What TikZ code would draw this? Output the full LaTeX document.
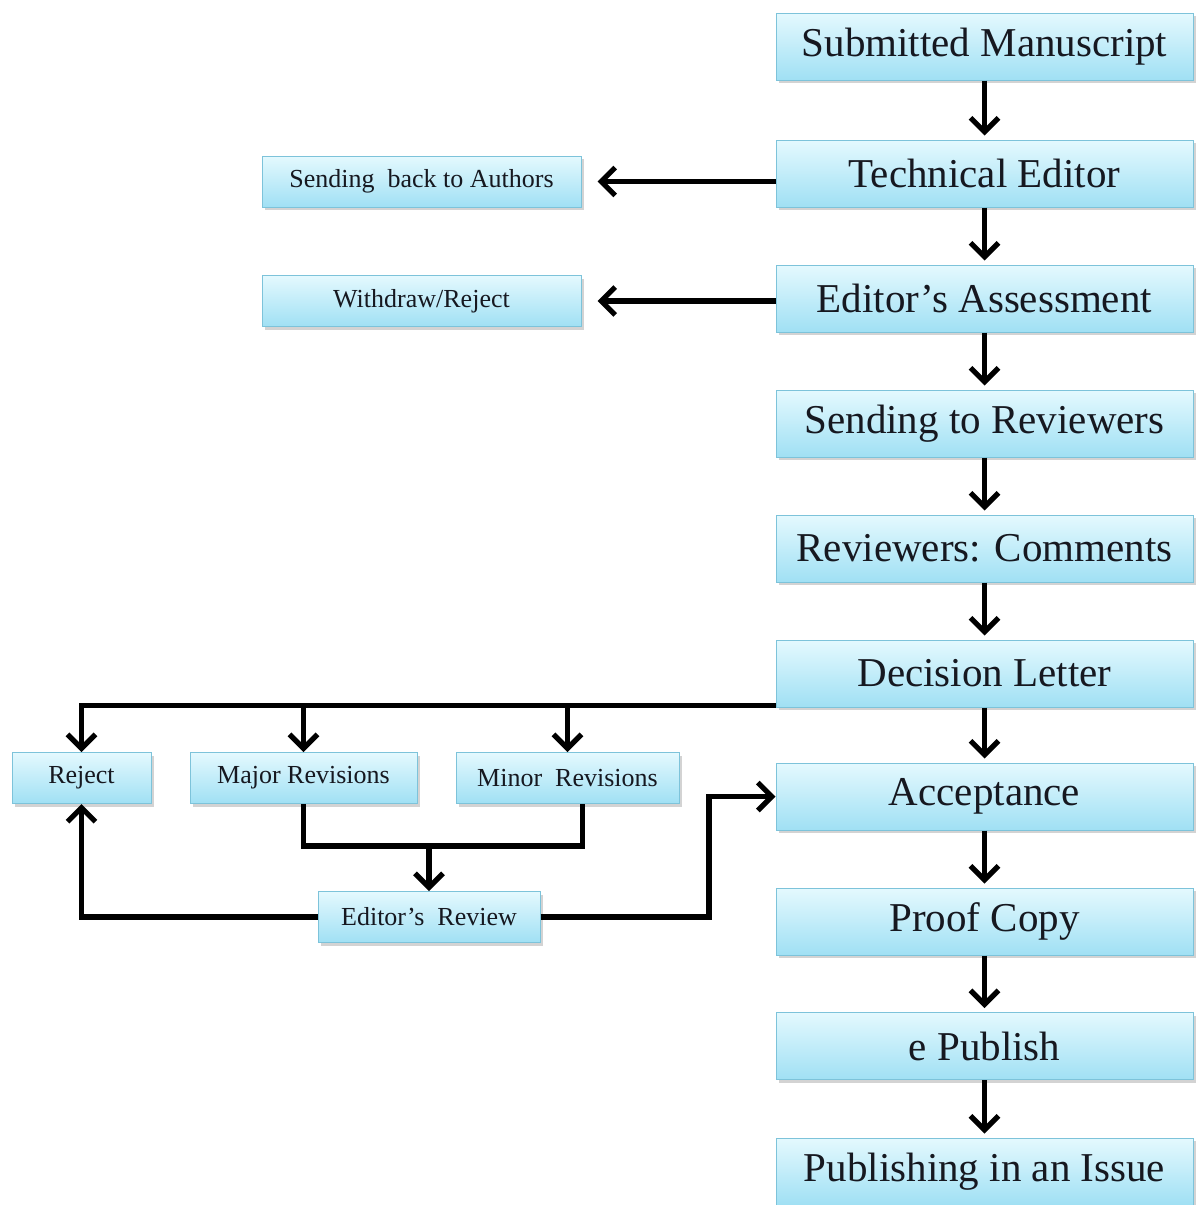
\documentclass[tikz,border=0pt]{standalone}
\usepackage{fontspec}
\setmainfont{Liberation Serif}
\usetikzlibrary{arrows.meta,shadows,calc}

\definecolor{cajaarriba}{RGB}{228,249,254}
\definecolor{cajaabajo}{RGB}{160,224,244}
\definecolor{cajaborde}{RGB}{125,195,218}
\definecolor{texto}{RGB}{22,24,32}

\tikzset{
    caja/.style={draw=cajaborde, line width=0.5pt, top color=cajaarriba, bottom color=cajaabajo,
        drop shadow={shadow xshift=1.5pt, shadow yshift=-1.5pt, opacity=0.35},
        inner sep=0pt, text=texto},
    grande/.style={caja, minimum width=208.5pt, minimum height=33.5pt, font=\fontsize{20.5}{24}\selectfont},
    chica/.style={caja, minimum height=25.5pt, font=\fontsize{13}{15}\selectfont},
    flecha/.style={line width=2.6pt, -{Straight Barb[length=7pt,width=14pt]}},
    linea/.style={line width=2.6pt},
}

\begin{document}
\begin{tikzpicture}[x=0.5pt, y=-0.5pt]

    \useasboundingbox (0,0) rectangle (1196,1205);

    % Columna principal
    \node[grande] (sm)  at (984.5,46.5)  {Submitted Manuscript};
    \node[grande] (te)  at (984.5,173.5) {Technical Editor};
    \node[grande] (ea)  at (984.5,298.5) {Editor’s Assessment};
    \node[grande] (sr)  at (984.5,423.5) {Sending to Reviewers};
    \node[grande] (rc)  at (984.5,548.5) {Reviewers: Comments};
    \node[grande] (dl)  at (984.5,673.5) {Decision Letter};
    \node[grande] (acc) at (984.5,796.5) {Acceptance};
    \node[grande] (pc)  at (984.5,921.5) {Proof Copy};
    \node[grande] (ep)  at (984.5,1046)  {e Publish};
    \node[grande] (pi)  at (984.5,1171.5) {Publishing in an Issue};

    % Cajas de la izquierda
    \node[chica, minimum width=159.5pt] (sba) at (421.5,181.5) {Sending\ \ back to Authors};
    \node[chica, minimum width=159.5pt] (wr)  at (421.5,301)   {Withdraw/Reject};
    \node[chica, minimum width=69.5pt]  (rej) at (81.5,778)    {Reject};
    \node[chica, minimum width=113.5pt] (may) at (303.5,778)   {Major Revisions};
    \node[chica, minimum width=111.5pt] (min) at (567.5,778)   {Minor\ \ Revisions};
    \node[chica, minimum width=111pt]   (er)  at (429,917)     {Editor’s\ \ Review};

    % Flechas de la columna
    \foreach \a/\b in {sm/te, te/ea, ea/sr, sr/rc, rc/dl, dl/acc, acc/pc, pc/ep, ep/pi}
        \draw[flecha, shorten >=2pt] (\a) -- (\b);

    % Flechas hacia la izquierda
    \draw[flecha, shorten >=8pt] (sba.east -| te.west) -- (sba.east);
    \draw[flecha, shorten >=8pt] (wr.east -| ea.west) -- (wr.east);

    % Decision: tres ramas
    \coordinate (dlw) at ($(dl.south west)+(0,-2)$);
    \draw[flecha] (dlw) -| (rej);
    \draw[flecha] (dlw -| may) -- (may);
    \draw[flecha] (dlw -| min) -- (min);

    % Revisiones hacia la revision del editor
    \coordinate (junta) at (429,846);
    \coordinate (minb) at ($(min.south)+(15,0)$);
    \draw[linea] (may.south) |- (junta) -| (minb);
    \draw[flecha] (junta) -- (er);

    % Salidas de la revision del editor
    \draw[flecha] (er.west) -| (rej.south);
    \coordinate (codo) at (709,796.5);
    \draw[flecha] (er.east) -| (codo) -- (acc.west);

\end{tikzpicture}
\end{document}
